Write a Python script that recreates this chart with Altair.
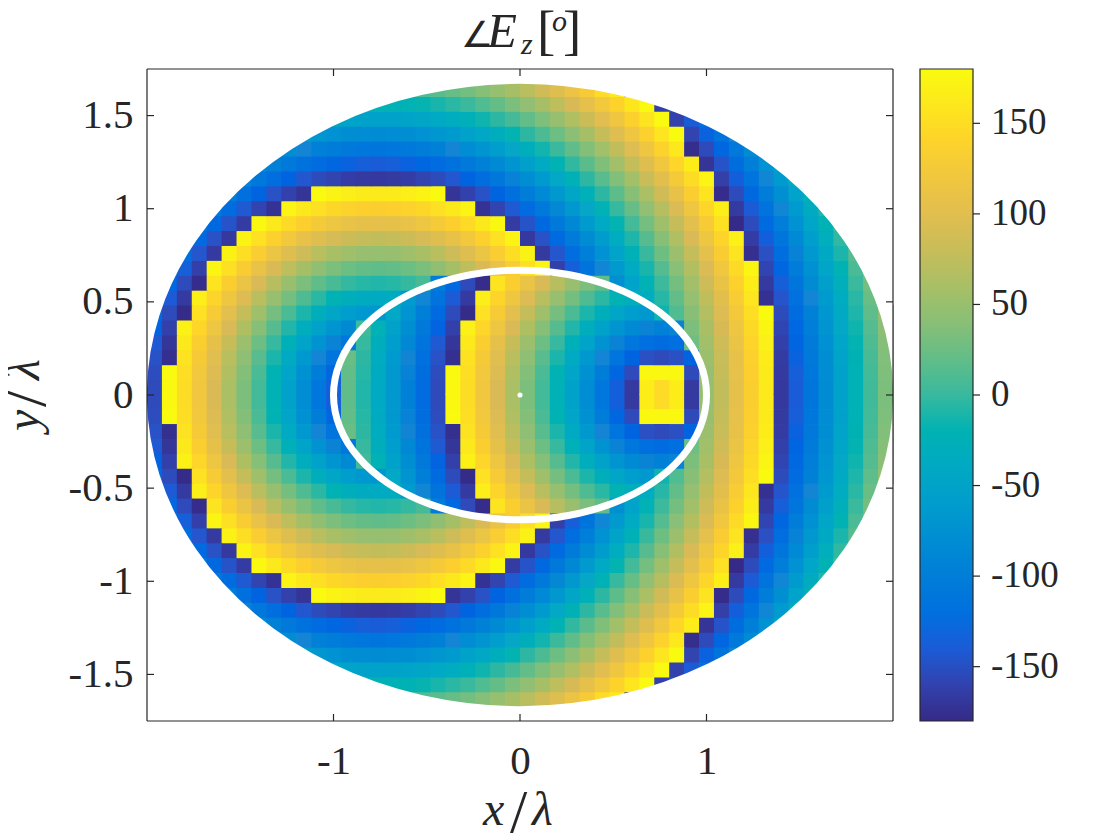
import altair as alt
import pandas as pd

# Phase in degrees, one list per row of the map, upper half
# (the map is mirror-symmetric about y = 0). Each row is centred in the 50 columns.
row_y = [0.04, 0.12, 0.20, 0.28, 0.36, 0.44, 0.52, 0.60, 0.68, 0.76, 0.84,
         0.92, 1.00, 1.08, 1.16, 1.24, 1.32, 1.40, 1.48, 1.56, 1.64]
col_x = [-1.96, -1.88, -1.80, -1.72, -1.64, -1.56, -1.48, -1.40, -1.32, -1.24,
         -1.16, -1.08, -1.00, -0.92, -0.84, -0.76, -0.68, -0.60, -0.52, -0.44,
         -0.36, -0.28, -0.20, -0.12, -0.04, 0.04, 0.12, 0.20, 0.28, 0.36,
         0.44, 0.52, 0.60, 0.68, 0.76, 0.84, 0.92, 1.00, 1.08, 1.16,
         1.24, 1.32, 1.40, 1.48, 1.56, 1.64, 1.72, 1.80, 1.88, 1.96]
cell = 0.08

r00 = [-154,177,149,120,91,62,33,5,-24,-53,-81,-110,-138,
       19,-10,-38,-67,-96,-125,-154,177,149,120,91,62,33,5,-24,-53,-81,-110,-138,-167,166,148,166,-167,
       48,76,105,134,163,-168,-140,-111,-82,-53,-24,4,33]
r01 = [-152,179,151,122,94,65,37,8,-20,-48,-76,-103,-130,
       20,-8,-37,-66,-94,-123,-152,179,151,122,94,65,37,8,-20,-48,-76,-103,-130,-154,176,177,176,-154,
       49,78,107,135,164,-167,-139,-110,-81,-52,-23,5,34]
r02 = [-148,-176,155,127,99,71,43,15,-12,-39,-65,-90,-113,
       23,-5,-34,-63,-91,-120,-148,-176,155,127,99,71,43,15,-12,-39,-65,-90,-113,-134,-149,-154,-149,-134,
       52,80,109,137,166,-165,-136,-108,-79,-50,-22,7,36]
r03 = [-142,-170,162,134,106,79,52,25,-1,-26,-50,-73,-93,-110,
       -1,-30,-58,-86,-114,-142,-170,162,134,106,79,52,25,-1,-26,-50,-73,-93,-110,-121,-125,-121,
       27,56,84,112,141,169,-162,-133,-105,-76,-47,-19,10,38]
r04 = [-135,-162,170,143,116,90,64,38,14,-10,-32,-53,-70,-84,
       4,-24,-52,-79,-107,-135,-162,170,143,116,90,64,38,14,-10,-32,-53,-70,-84,-93,-96,-93,
       33,61,89,117,146,174,-158,-129,-101,-72,-44,-16,13,42]
r05 = [-126,-153,-179,154,128,103,78,54,30,8,-12,-30,-46,-58,-65,-68,
       -44,-71,-99,-126,-153,-179,154,128,103,78,54,30,8,-12,-30,-46,-58,-65,
       -16,11,39,67,95,123,151,180,-153,-124,-96,-68,-39,-11,18,46]
r06 = [-141,-167,167,142,118,94,71,49,29,10,-6,-20,-30,-36,-39,-36,
       -62,-89,-115,-141,-167,167,142,118,94,71,49,29,10,-6,-20,-30,
       -35,-8,20,47,75,102,130,158,-174,-146,-118,-90,-62,-34,-6,23]
r07 = [-129,-154,-178,157,134,112,90,69,50,33,19,7,-2,-8,-10,-8,-2,7,
       -103,-129,-154,-178,157,134,112,90,69,50,33,19,
       -77,-51,-24,2,29,56,83,111,138,166,-167,-139,-111,-83,-55,-28,1,29]
r08 = [-114,-139,-162,174,152,131,110,91,74,58,44,33,25,21,19,21,25,33,44,58,74,91,110,131,152,174,
       -162,-139,-114,-89,-64,-38,-13,13,40,66,93,120,147,175,-158,-131,-103,-76,-48,-20,8,36]
r09 = [-122,-145,-167,171,151,132,114,98,83,71,61,54,49,48,49,54,61,71,83,98,114,132,151,171,
       -167,-145,-122,-99,-75,-50,-25,0,26,52,78,104,131,157,-176,-149,-122,-94,-67,-40,-12,15]
r10 = [-127,-148,-168,172,154,137,122,109,98,88,82,78,76,78,82,88,98,109,122,137,154,172,
       -168,-148,-127,-105,-82,-59,-35,-11,14,39,65,90,116,142,169,-165,-138,-112,-85,-58,-31,-3]
r11 = [-107,-128,-147,-165,177,162,147,135,125,116,110,106,105,106,110,116,125,135,147,162,177,
       -165,-147,-128,-107,-86,-64,-42,-19,5,29,54,78,103,129,154,-180,-153,-127,-101,-74,-47,-21,6]
r12 = [-106,-125,-142,-159,-173,173,162,152,144,139,135,134,135,139,144,152,162,173,
       -173,-159,-142,-125,-106,-87,-67,-45,-23,-1,22,45,69,93,118,143,168,-167,-141,-115,-89,-63,-36,-10]
r13 = [-102,-119,-134,-148,-161,-171,179,172,167,164,163,164,167,172,179,
       -171,-161,-148,-134,-119,-102,-85,-66,-46,-26,-5,17,39,62,85,109,133,157,-178,-153,-128,-102,-77,-51,-25]
r14 = [-94,-109,-122,-134,-144,-153,-159,-164,-167,-168,-167,-164,-159,-153,-144,-134,-122,-109,-94,-79,-62,
       -44,-25,-5,15,36,57,80,102,125,149,173,-163,-138,-114,-89,-63,-38]
r15 = [-84,-96,-107,-117,-125,-131,-136,-139,-140,-139,-136,-131,-125,-117,-107,-96,-84,-70,-55,-38,-21,
       -3,16,35,56,77,98,120,143,166,-171,-147,-123,-99,-74,-50]
r16 = [-70,-80,-90,-97,-103,-107,-110,-111,-110,-107,-103,-97,-90,-80,-70,-58,-45,-30,-15,1,19,37,
       56,76,96,117,139,161,-177,-154,-131,-107,-83,-59]
r17 = [-62,-69,-75,-79,-81,-82,-81,-79,-75,-69,-62,-53,-43,-32,-19,-5,9,25,42,59,78,
       97,117,137,158,180,-159,-136,-114,-91]
r18 = [-46,-50,-52,-53,-52,-50,-46,-41,-34,-26,-16,-5,6,20,34,49,65,82,100,118,137,157,178,-161,-140,-118]
r19 = [-23,-24,-23,-21,-18,-13,-6,1,11,21,33,45,59,74,89,105,122,140,159,178,-162,-142]
r20 = [7,11,16,22,29,38,48,59,71,84,98,113,129,148,163,-179]
phase_rows = [r00, r01, r02, r03, r04, r05, r06, r07, r08, r09, r10,
              r11, r12, r13, r14, r15, r16, r17, r18, r19, r20]

ring_x = [1.00, 0.966, 0.866, 0.707, 0.50, 0.259, 0.00, -0.259, -0.50, -0.707, -0.866, -0.966,
          -1.00, -0.966, -0.866, -0.707, -0.50, -0.259, 0.00, 0.259, 0.50, 0.707, 0.866, 0.966]
ring_y = [0.00, 0.173, 0.335, 0.474, 0.58, 0.647, 0.67, 0.647, 0.58, 0.474, 0.335, 0.173,
          0.00, -0.173, -0.335, -0.474, -0.58, -0.647, -0.67, -0.647, -0.58, -0.474, -0.335, -0.173]
# white surround of the map: its inner edge is the map's elliptical outline
edge_x = [2.097, 2.025, 1.816, 1.482, 1.048, 0.543, 0.00, -0.543, -1.048, -1.482, -1.816, -2.025,
          -2.097, -2.025, -1.816, -1.482, -1.048, -0.543, 0.00, 0.543, 1.048, 1.482, 1.816, 2.025]
edge_y = [0.00, 0.457, 0.883, 1.249, 1.530, 1.706, 1.767, 1.706, 1.530, 1.249, 0.883, 0.457,
          0.00, -0.457, -0.883, -1.249, -1.530, -1.706, -1.767, -1.706, -1.530, -1.249, -0.883, -0.457]
x_ticks = [-1, 0, 1]
y_ticks = [-1.5, -1, -0.5, 0, 0.5, 1, 1.5]
cbar_ticks = [-150, -100, -50, 0, 50, 100, 150]
parula = ["#352a87", "#0363e1", "#1485d4", "#06a7c6", "#38b99e",
          "#92bf73", "#d9ba56", "#fcce2e", "#f9fb0e"]
parula_at = [-180, -135, -90, -45, 0, 45, 90, 135, 180]

recs = []
for y, row in zip(row_y, phase_rows):
    start = (len(col_x) - len(row)) // 2
    for k, v in enumerate(row):
        x = col_x[start + k]
        for sy in (y, -y):
            recs.append({"x0": x - cell / 2, "x1": x + cell / 2 + 0.004,
                         "y0": sy - cell / 2, "y1": sy + cell / 2 + 0.004, "phase": v})
cells = pd.DataFrame(recs)

SERIF = "Liberation Serif"
INK = "#262626"
W, H = 746, 652
xs = alt.Scale(domain=[-2, 2], range=[0, W], nice=False, zero=False)
ys = alt.Scale(domain=[-1.75, 1.75], range=[H, 0], nice=False, zero=False)
cs = alt.Scale(domain=parula_at, range=parula)
label = "'' + datum.value"
xaxis = alt.Axis(values=x_ticks, title=None, labelExpr=label, grid=False, ticks=False,
                 domain=False, labelFont=SERIF, labelFontSize=41, labelColor=INK, labelPadding=20)
X = lambda f: alt.X(f, scale=xs, axis=xaxis)

heat = alt.Chart(cells).mark_rect().encode(
    x=X("x0:Q"),
    x2="x1:Q",
    y=alt.Y("y0:Q", scale=ys,
            axis=alt.Axis(values=y_ticks, title=None, labelExpr=label, grid=False, ticks=False,
                          domain=False, labelFont=SERIF, labelFontSize=41, labelColor=INK,
                          labelPadding=14)),
    y2="y1:Q",
    color=alt.Color("phase:Q", scale=cs,
                    legend=alt.Legend(type="gradient", title=None, values=cbar_ticks, labelExpr=label,
                                      gradientLength=H, gradientThickness=53, offset=27,
                                      gradientStrokeColor=INK, gradientStrokeWidth=1.2,
                                      labelFont=SERIF, labelFontSize=37, labelColor=INK,
                                      labelOffset=18)),
)

closed = dict(interpolate="cardinal-closed", tension=0)
edge_df = pd.DataFrame({"rx": edge_x, "ry": edge_y, "k": list(range(len(edge_x)))})
edge = alt.Chart(edge_df).mark_line(color="white", strokeWidth=36, clip=True, **closed).encode(
    x=X("rx:Q"), y=alt.Y("ry:Q", scale=ys, axis=None), order="k:O")
ring_df = pd.DataFrame({"rx": ring_x, "ry": ring_y, "k": list(range(len(ring_x)))})
ring = alt.Chart(ring_df).mark_line(color="white", strokeWidth=7, **closed).encode(
    x=X("rx:Q"), y=alt.Y("ry:Q", scale=ys, axis=None), order="k:O")
dot = alt.Chart(pd.DataFrame({"dx": [0], "dy": [0]})).mark_point(filled=True, color="white", size=26, opacity=1).encode(
    x=X("dx:Q"), y=alt.Y("dy:Q", scale=ys, axis=None))

xt = pd.DataFrame({"v": x_ticks})
yt = pd.DataFrame({"v": y_ticks})
ct = pd.DataFrame({"v": cbar_ticks})
one = alt.Data(values=[{"a": 1}])
TICK = 7
rule = dict(color=INK, strokeWidth=1.2)
xtick_b = alt.Chart(xt).mark_rule(**rule).encode(x=X("v:Q"), y=alt.value(H), y2=alt.value(H - TICK))
xtick_t = alt.Chart(xt).mark_rule(**rule).encode(x=X("v:Q"), y=alt.value(0), y2=alt.value(TICK))
ytick_l = alt.Chart(yt).mark_rule(**rule).encode(y=alt.Y("v:Q", scale=ys, axis=None), x=alt.value(0), x2=alt.value(TICK))
ytick_r = alt.Chart(yt).mark_rule(**rule).encode(y=alt.Y("v:Q", scale=ys, axis=None), x=alt.value(W), x2=alt.value(W - TICK))
ctick = alt.Chart(ct).mark_rule(**rule).encode(
    y=alt.Y("v:Q", scale=alt.Scale(domain=[-180, 180], range=[H, 0], nice=False, zero=False), axis=None),
    x=alt.value(826), x2=alt.value(833))
frame = [
    alt.Chart(one).mark_rule(**rule).encode(x=alt.value(0), y=alt.value(0), y2=alt.value(H)),
    alt.Chart(one).mark_rule(**rule).encode(x=alt.value(W), y=alt.value(0), y2=alt.value(H)),
    alt.Chart(one).mark_rule(**rule).encode(y=alt.value(0), x=alt.value(0), x2=alt.value(W)),
    alt.Chart(one).mark_rule(**rule).encode(y=alt.value(H), x=alt.value(0), x2=alt.value(W)),
]


def piece(txt, px, py, size, font=SERIF, style="normal", angle=0):
    """A piece of a math label, placed by page pixel."""
    return alt.Chart(alt.Data(values=[{"t": txt}])).mark_text(
        font=font, fontSize=size, fontStyle=style, color=INK, align="left",
        baseline="alphabetic", angle=angle
    ).encode(x=alt.value(px - 147), y=alt.value(py - 69), text="t:N")


labels = [
    piece("∠", 461, 47, 36, font="DejaVu Sans"),
    piece("E", 487, 47, 49, style="italic"),
    piece("z", 521, 54, 30, style="italic"),
    piece("[", 537, 49, 55),
    piece("o", 552, 31, 30, style="italic"),
    piece("]", 563, 49, 55),
    piece("x", 483, 825, 48, style="italic"),
    piece("/", 510, 832, 62),
    piece("λ", 532, 825, 48, style="italic"),
    piece("y", 39, 431, 48, style="italic", angle=270),
    piece("/", 45, 407, 62, angle=270),
    piece("λ", 39, 380, 48, style="italic", angle=270),
]

chart = alt.layer(heat, edge, ring, dot, xtick_b, xtick_t, ytick_l, ytick_r, ctick, *frame, *labels).resolve_scale(
    y="independent", x="shared", color="shared"
).properties(
    width=W, height=H, autosize=alt.AutoSizeParams(type="none"),
    padding={"left": 139, "top": 61, "right": 219, "bottom": 127},
    background="white",
).configure_view(stroke=None)

chart.save("out.html", embed_options={"renderer": "svg", "actions": False})
